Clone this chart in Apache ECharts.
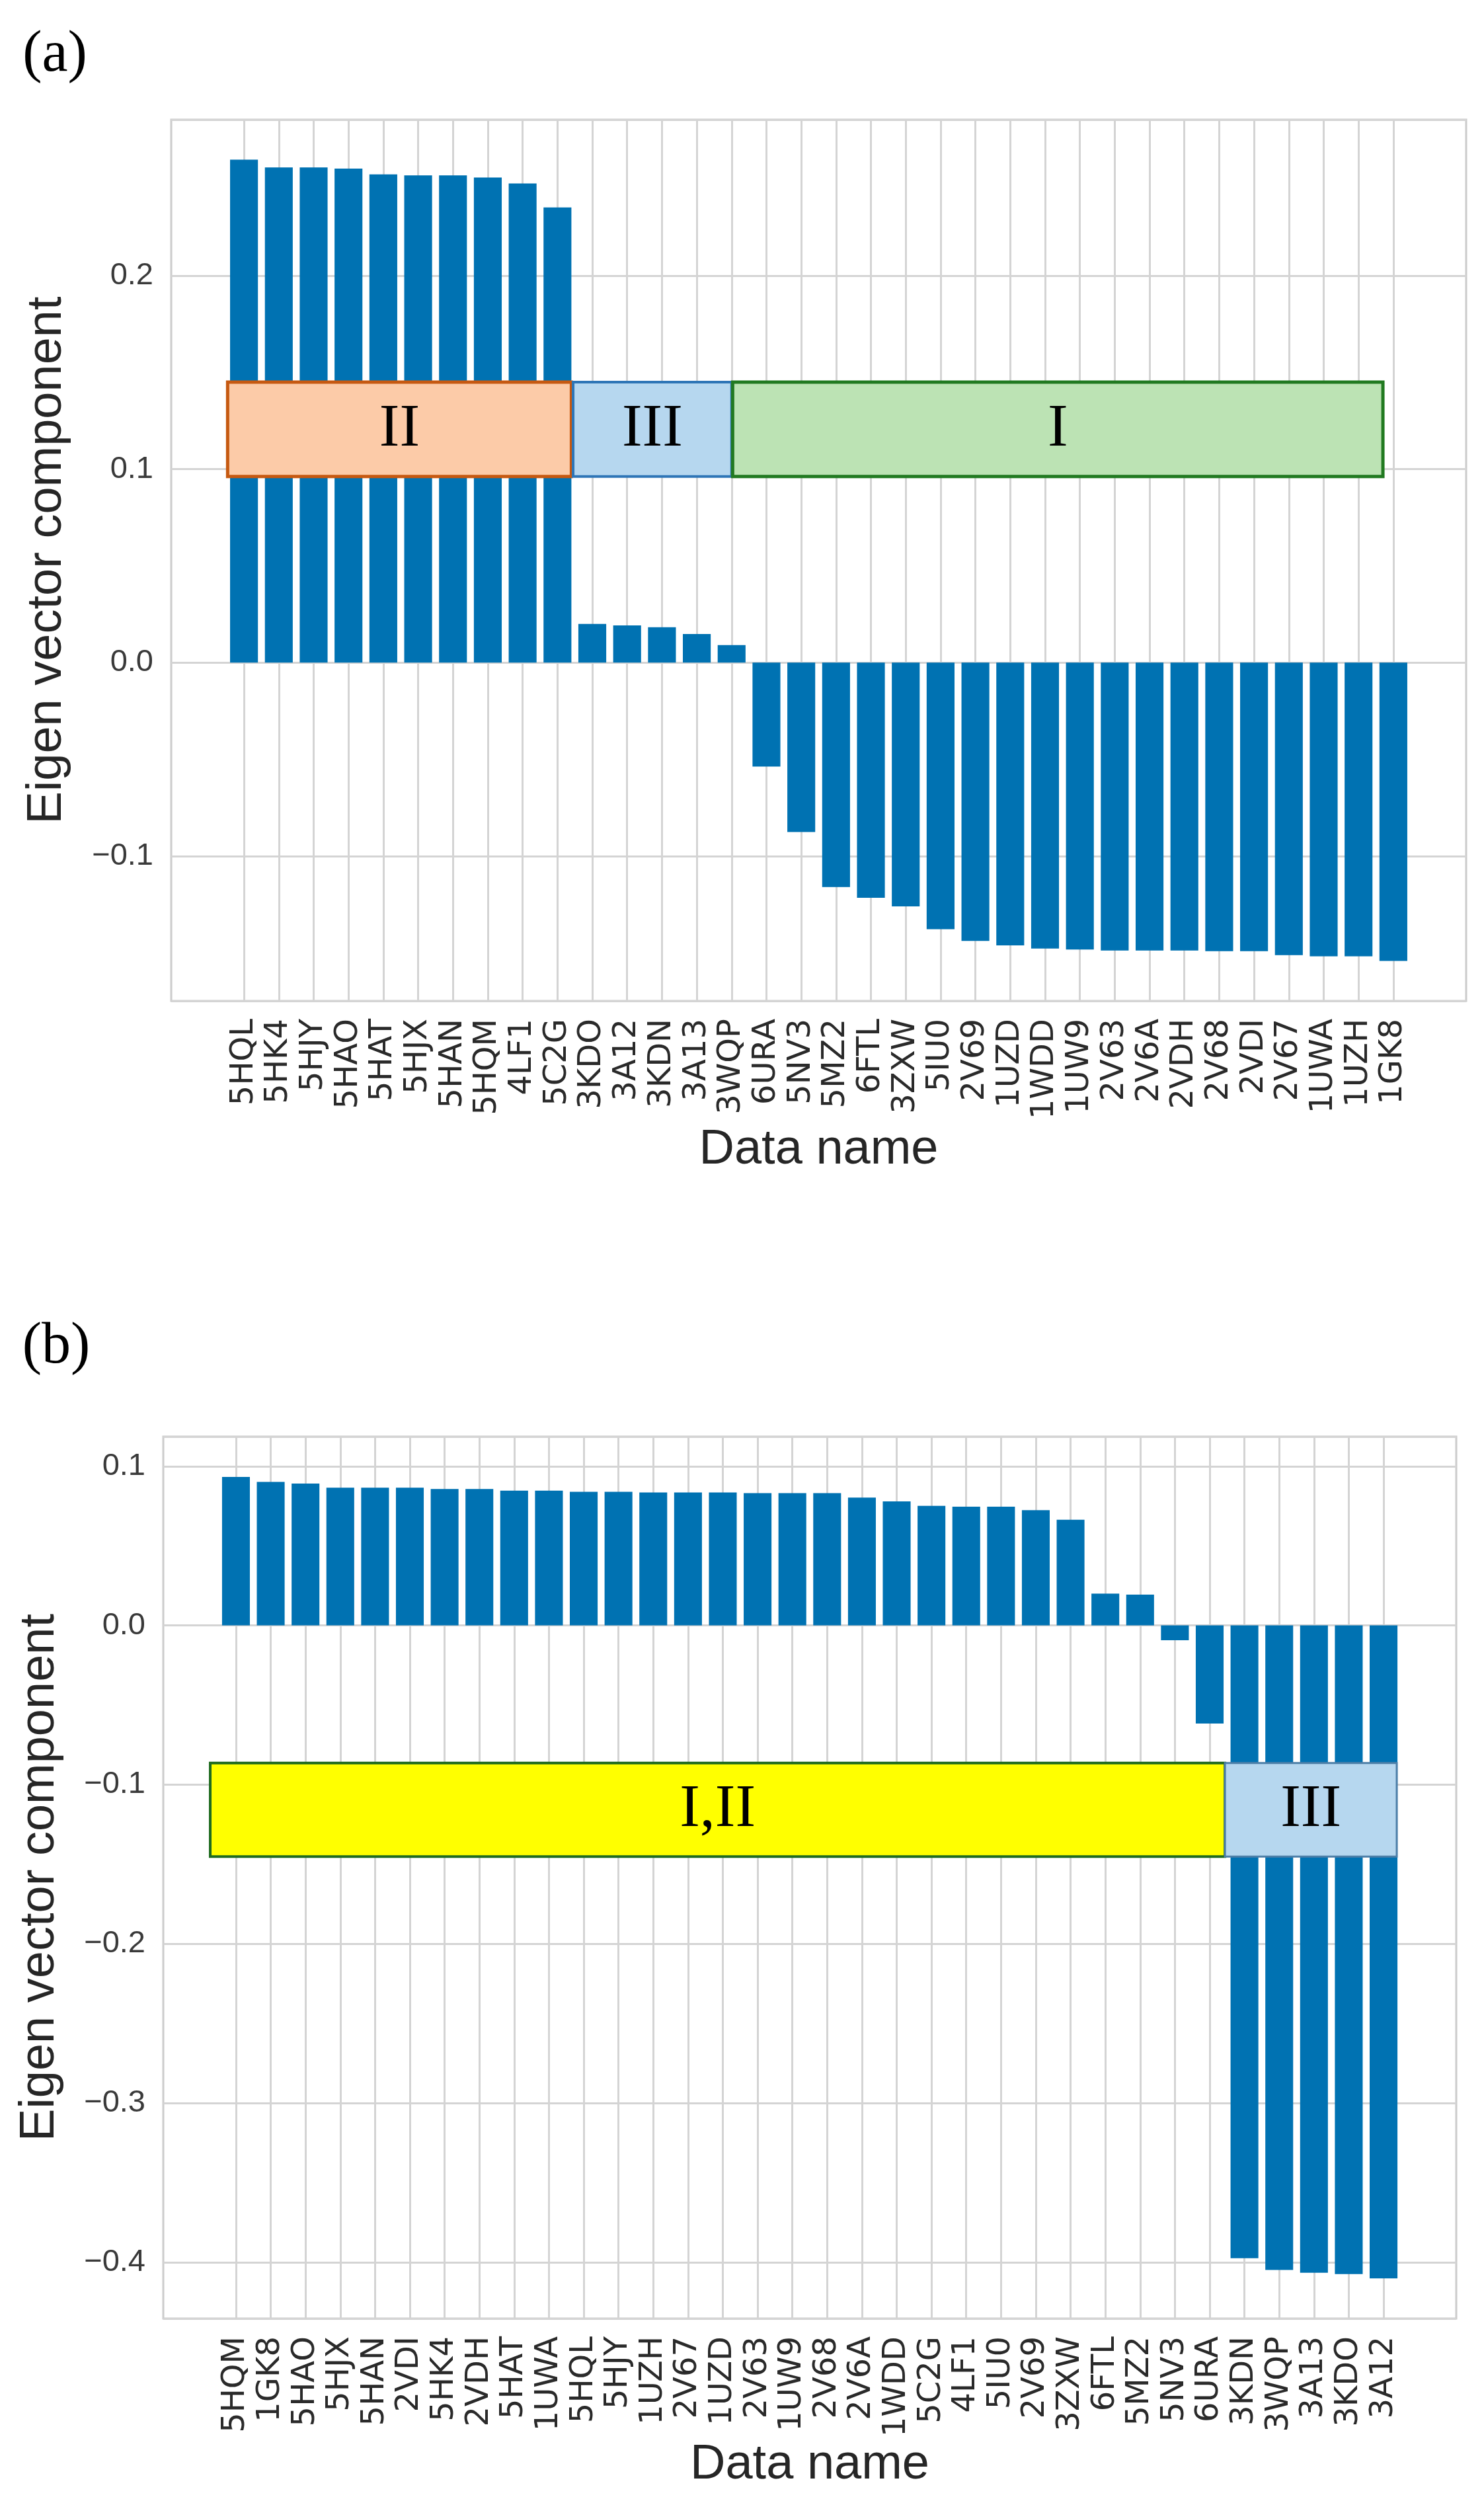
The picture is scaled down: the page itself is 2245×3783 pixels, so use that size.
<!DOCTYPE html>
<html>
<head>
<meta charset="utf-8">
<script src="https://cdn.jsdelivr.net/npm/echarts@6/dist/echarts.min.js"></script>
<style>
html,body{margin:0;padding:0;background:#fff;}
#chart{width:2245px;height:3783px;}
</style>
</head>
<body>
<div id="chart"></div>
<script>
// ---------------- data ----------------
const catsA = ['5HQL','5HK4','5HJY','5HAO','5HAT','5HJX','5HAN','5HQM','4LF1','5C2G',
  '3KDO','3A12','3KDN','3A13','3WQP',
  '6URA','5NV3','5MZ2','6FTL','3ZXW','5IU0','2V69','1UZD','1WDD','1UW9','2V63','2V6A','2VDH','2V68','2VDI','2V67','1UWA','1UZH','1GK8'];
const valsA = [0.260,0.256,0.256,0.2554,0.2524,0.2519,0.2519,0.2508,0.2477,0.2353,
  0.0200,0.0192,0.0183,0.0148,0.0091,
  -0.0537,-0.0876,-0.1160,-0.1216,-0.1260,-0.1378,-0.1439,-0.1462,-0.1478,-0.1483,-0.1488,-0.1488,-0.1488,-0.1492,-0.1492,-0.1512,-0.1518,-0.1518,-0.1542];

const catsB = ['5HQM','1GK8','5HAO','5HJX','5HAN','2VDI','5HK4','2VDH','5HAT','1UWA','5HQL','5HJY','1UZH','2V67','1UZD',
  '2V63','1UW9','2V68','2V6A','1WDD','5C2G','4LF1','5IU0','2V69','3ZXW','6FTL','5MZ2','5NV3','6URA',
  '3KDN','3WQP','3A13','3KDO','3A12'];
const valsB = [0.0933,0.0902,0.0891,0.0865,0.0865,0.0865,0.0857,0.0857,0.0846,0.0846,0.0839,0.0839,0.0835,0.0835,0.0835,
  0.0831,0.0831,0.0831,0.0803,0.0779,0.0751,0.0746,0.0746,0.0724,0.0664,0.0200,0.0193,-0.0093,-0.0616,
  -0.3975,-0.4049,-0.4066,-0.4075,-0.4102];

// group annotation boxes: [xFrom(index), yBottom, xTo(index), yTop]
const boxesA = [[-0.47,0.0962,9.40,0.145],[9.45,0.0962,14.0,0.145],[14.03,0.0962,32.7,0.145]];
const boxLabelsA = ['II','III','I'];
const boxesB = [[-0.74,-0.1452,28.44,-0.0864],[28.44,-0.1452,33.38,-0.0864]];
const boxLabelsB = ['I,II','III'];

// y ranges (matplotlib auto-margins)
const yRangeA = [-0.1749, 0.2807];
const yRangeB = [-0.4354, 0.1186];

// ---------------- styles / layout ----------------
const boxStylesA = [
  {fill:'#fccba8', stroke:'#c65911', lw:5},
  {fill:'#b6d7ef', stroke:'#2e75b6', lw:4},
  {fill:'#bce3b4', stroke:'#217a21', lw:5}
];
const boxStylesB = [
  {fill:'#ffff00', stroke:'#1f6b1f', lw:4},
  {fill:'#b6d7ef', stroke:'#4d7fa8', lw:3}
];
const BAR = '#0072b2';
const GRIDC = '#d4d4d4';
const frameA = {left:259, top:181, width:1959, height:1333};
const frameB = {left:247, top:2173, width:1956, height:1334};
const XPAD = 2.09, NSPAN = 33;   // xlim = [-2.09, 33 + 2.09]
function inner(fr){
  const sp = fr.width / (NSPAN + 2*XPAD);
  return {left: fr.left + XPAD*sp, top: fr.top, width: NSPAN*sp, height: fr.height};
}
const innerA = inner(frameA), innerB = inner(frameB);

const fmt = v => (Math.abs(v) < 1e-9 ? '0.0' : v.toFixed(1)).replace('-', '\u2212');

function frameAxes(fr, yr){
  return {
    x: {type:'value', min:-XPAD, max:NSPAN+XPAD, show:false, splitLine:{show:false}},
    y: {type:'value', min:yr[0], max:yr[1], splitNumber:5,
        axisLine:{show:false}, axisTick:{show:false},
        axisLabel:{formatter:fmt, showMinLabel:false, showMaxLabel:false, margin:27,
                   fontSize:47, fontFamily:'Liberation Sans', color:'#3a3a3a'},
        splitLine:{show:true, lineStyle:{color:GRIDC, width:3}}}
  };
}
function catAxis(cats){
  return {type:'category', data:cats, boundaryGap:false,
    axisLine:{show:false}, axisTick:{show:false},
    axisLabel:{interval:0, rotate:90, margin:27, fontSize:48, fontFamily:'DejaVu Sans', color:'#2a2a2a'},
    splitLine:{show:true, interval:0, lineStyle:{color:GRIDC, width:3}}};
}
function hiddenY(yr){
  return {type:'value', min:yr[0], max:yr[1], show:false, splitLine:{show:false}};
}
function boxRenderer(labels, styles){
  return function(params, api){
    const p1 = api.coord([api.value(0), api.value(3)]);
    const p2 = api.coord([api.value(2), api.value(1)]);
    const s = styles[params.dataIndex];
    return {type:'group', children:[
      {type:'rect', shape:{x:p1[0], y:p1[1], width:p2[0]-p1[0], height:p2[1]-p1[1]},
       style:{fill:s.fill, stroke:s.stroke, lineWidth:s.lw}},
      {type:'text', style:{text:labels[params.dataIndex], x:(p1[0]+p2[0])/2, y:(p1[1]+p2[1])/2,
        align:'center', verticalAlign:'middle', fontSize:92, fontFamily:'Liberation Serif', fill:'#000'}}
    ]};
  };
}

const fa = frameAxes(frameA, yRangeA), fb = frameAxes(frameB, yRangeB);

const option = {
  backgroundColor:'#fff',
  animation:false,
  grid:[
    Object.assign({show:true, borderColor:'#cccccc', borderWidth:3, backgroundColor:'#fff'}, frameA),
    Object.assign({show:false}, innerA),
    Object.assign({show:true, borderColor:'#cccccc', borderWidth:3, backgroundColor:'#fff'}, frameB),
    Object.assign({show:false}, innerB)
  ],
  xAxis:[
    Object.assign({}, fa.x, {gridIndex:0}),
    Object.assign(catAxis(catsA), {gridIndex:1}),
    Object.assign({}, fb.x, {gridIndex:2}),
    Object.assign(catAxis(catsB), {gridIndex:3})
  ],
  yAxis:[
    Object.assign({}, fa.y, {gridIndex:0}),
    Object.assign(hiddenY(yRangeA), {gridIndex:1}),
    Object.assign({}, fb.y, {gridIndex:2}),
    Object.assign(hiddenY(yRangeB), {gridIndex:3})
  ],
  series:[
    {type:'bar', xAxisIndex:1, yAxisIndex:1, data:valsA, barWidth:'80%', itemStyle:{color:BAR}, z:2},
    {type:'custom', xAxisIndex:0, yAxisIndex:0, data:boxesA, renderItem:boxRenderer(boxLabelsA, boxStylesA), z:5, clip:false},
    {type:'bar', xAxisIndex:3, yAxisIndex:3, data:valsB, barWidth:'80%', itemStyle:{color:BAR}, z:2},
    {type:'custom', xAxisIndex:2, yAxisIndex:2, data:boxesB, renderItem:boxRenderer(boxLabelsB, boxStylesB), z:5, clip:false}
  ],
  graphic:[
    {type:'text', x:83, y:84, style:{text:'(a)', fontSize:88, fontFamily:'Liberation Serif', fill:'#000', align:'center', verticalAlign:'middle'}},
    {type:'text', x:85, y:2038, style:{text:'(b)', fontSize:88, fontFamily:'Liberation Serif', fill:'#000', align:'center', verticalAlign:'middle'}},
    {type:'text', x:72, y:frameA.top+frameA.height/2, rotation:Math.PI/2,
      style:{text:'Eigen vector component', fontSize:74, fontFamily:'Liberation Sans', fill:'#262626', align:'center', verticalAlign:'middle'}},
    {type:'text', x:61, y:frameB.top+frameB.height/2, rotation:Math.PI/2,
      style:{text:'Eigen vector component', fontSize:74, fontFamily:'Liberation Sans', fill:'#262626', align:'center', verticalAlign:'middle'}},
    {type:'text', x:frameA.left+frameA.width/2, y:1740,
      style:{text:'Data name', fontSize:74, fontFamily:'Liberation Sans', fill:'#262626', align:'center', verticalAlign:'middle'}},
    {type:'text', x:frameB.left+frameB.width/2, y:3729,
      style:{text:'Data name', fontSize:74, fontFamily:'Liberation Sans', fill:'#262626', align:'center', verticalAlign:'middle'}}
  ]
};

const chart = echarts.init(document.getElementById('chart'), null, {renderer:'canvas'});
chart.setOption(option);
</script>
</body>
</html>
